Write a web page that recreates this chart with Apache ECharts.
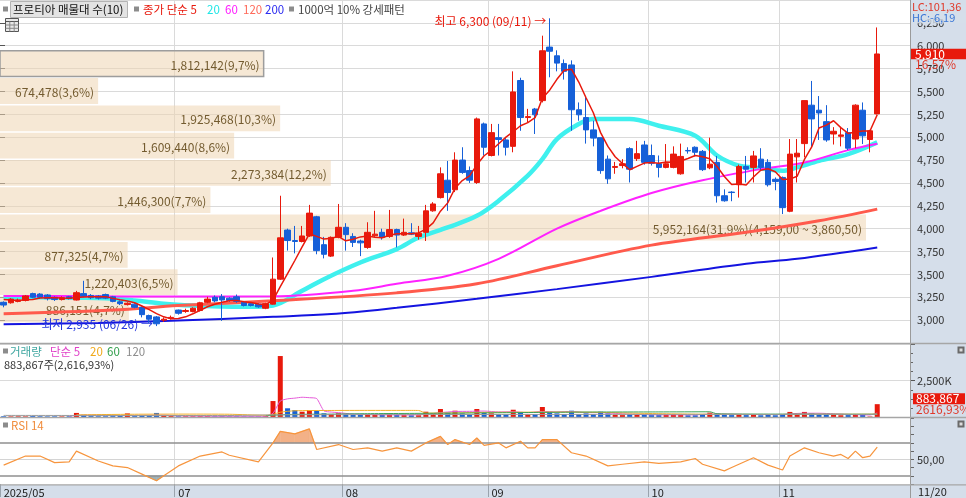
<!DOCTYPE html>
<html><head><meta charset="utf-8">
<script src="https://cdn.jsdelivr.net/npm/echarts@6.0.0/dist/echarts.min.js"></script>
<style>html,body{margin:0;padding:0;background:#fff;overflow:hidden}#c{width:966px;height:498px}</style>
</head><body><div id="c"></div><script>
// ---------- trading days ----------
const mayDays=[26,27,28,29,30];
const junDays=[2,4,5,9,10,11,12,13,16,17,18,19,20,23,24,25,26,27,30];
const julDays=[1,2,3,4,7,8,9,10,11,14,15,16,17,18,21,22,23,24,25,28,29,30,31];
const augDays=[1,4,5,6,7,8,11,12,13,14,18,19,20,21,22,25,26,27,28,29];
const sepDays=[1,2,3,4,5,8,9,10,11,12,15,16,17,18,19,22,23,24,25,26,29,30];
const octDays=[1,2,10,13,14,15,16,17,20,21,22,23,24,27,28,29,30,31];
const novDays=[3,4,5,6,7,10,11,12,13,14,17,18,19,20];
const emptySlots=[' 1',' 2',' 3',' 4'];
const monthMarks=[0,24,47,67,89,107];
const monthLabels=['2025/05','07','08','09','10','11'];

// ---------- price (OHLC) ----------
const opens=[3195,3190,3205,3215,3290,3285,3275,3250,3225,3255,
3220,3290,3270,3265,3280,3255,3200,3170,3175,3140,
3050,3035,3000,3020,3110,3095,3095,3105,3195,3250,
3255,3240,3255,3195,3180,3175,3130,3175,3448,3985,
3870,3860,3920,4130,3825,3700,3905,4015,3915,3865,
3795,3922,3960,3915,3990,3930,3955,3915,3960,4195,
4340,4530,4425,4750,4635,4505,5145,4800,4995,4970,
4900,5620,5215,5308,5400,5985,5890,5805,5790,5300,
5215,5080,4995,4760,4670,4690,4875,4765,4915,4800,
4710,4670,4670,4600,4855,4890,4845,4665,4725,4360,
4400,4480,4680,4670,4760,4725,4540,4560,4190,4785,
4930,5350,5295,5170,5035,5010,5050,4980,5295,4975,
5255];
const closes=[3165,3230,3220,3265,3250,3250,3235,3225,3245,3235,
3300,3260,3245,3240,3240,3205,3180,3185,3140,3060,
3010,2960,3010,3030,3075,3105,3130,3190,3230,3210,
3220,3215,3205,3160,3160,3145,3180,3448,3900,3870,
3860,3920,4170,3760,3720,3905,4015,3935,3850,3845,
3960,3940,3905,3990,3930,3960,3940,3950,4195,4270,
4600,4395,4750,4615,4530,5200,4890,5050,4975,4890,
5495,5215,5225,5245,5945,5940,5810,5720,5300,5245,
5080,4990,4635,4545,4680,4710,4650,4820,4725,4715,
4670,4710,4815,4790,4850,4835,4645,4705,4360,4305,
4395,4680,4650,4795,4670,4480,4515,4230,4815,4825,
5400,5200,5265,4970,5065,5025,4880,5350,5015,5070,
5910];
const lows=[3140,3180,3195,3205,3240,3235,3215,3210,3215,3225,
3215,3250,3230,3225,3230,3195,3165,3160,3130,3030,
2970,2935,2980,3005,3060,3080,3085,3095,3185,3195,
2992,3200,3190,3150,3150,3135,3120,3170,3440,3760,
3730,3850,3910,3720,3675,3690,3895,3760,3800,3700,
3780,3910,3880,3900,3795,3920,3930,3880,3865,4185,
4330,4195,4400,4600,4500,4490,4800,4790,4800,4800,
4835,5070,5160,5035,5380,5655,5720,5630,5070,5180,
4930,4900,4600,4490,4600,4660,4505,4740,4700,4690,
4560,4660,4660,4590,4820,4790,4630,4650,4285,4295,
4300,4340,4505,4505,4630,4460,4420,4160,4180,4505,
4780,4895,4970,4950,4920,4900,4860,4880,4925,4835,
5250];
const highs=[3205,3240,3235,3275,3300,3295,3285,3260,3260,3265,
3320,3430,3285,3275,3290,3265,3215,3195,3185,3150,
3060,3045,3030,3050,3115,3125,3140,3200,3255,3270,
3285,3250,3280,3205,3195,3185,3190,3685,4360,4000,
4030,4030,4260,4140,3910,3915,4270,4060,3950,3880,
4070,4195,4000,4205,4000,4110,4060,4030,4260,4290,
4670,4740,4835,4890,4680,5215,5160,5145,5145,4990,
5720,5650,5310,5320,6110,6300,5950,5850,5840,5380,
5440,5180,4995,4800,4730,4760,4890,4960,4960,4920,
4800,4925,4900,4930,4890,4900,4860,4995,4795,4430,
4410,4700,4795,4850,4880,4760,4560,4570,4980,4980,
5400,5615,5450,5350,5110,5100,5100,5360,5380,5080,
6200];

// ---------- moving averages ----------
const ma5=[3225,3220,3215,3222,3226,3243,3244,3245,3241,3238,3248,3253,3257,3256,3257,3238,3222,3210,3190,3154,3115,3071,3036,3014,3017,3036,3070,3106,3146,3173,3196,3213,3216,3202,3192,3177,3170,3219,3367,3509,3652,3800,3944,3916,3886,3895,3914,3867,3885,3910,3921,3906,3900,3928,3945,3945,3945,3954,3995,4063,4191,4282,4442,4526,4578,4698,4797,4857,4929,5001,5060,5125,5160,5214,5425,5514,5633,5732,5743,5603,5431,5267,5050,4899,4786,4712,4644,4681,4717,4724,4716,4728,4727,4740,4767,4800,4787,4765,4679,4570,4482,4489,4478,4565,4638,4655,4622,4538,4542,4573,4757,4894,5101,5132,5180,5105,5041,5058,5067,5068,5245];
const ma20Idx=[0,5,10,14,18,22,26,30,34,37,41,44,49,54,57,61,65,68,72,74,76,79,81,86,90,95,98,101,103,107,109,112,116,120];
const ma20Val=[3250,3250,3245,3240,3215,3180,3160,3150,3145,3160,3320,3448,3630,3777,3903,4013,4140,4305,4580,4760,4980,5144,5198,5198,5125,5016,4800,4688,4670,4633,4670,4742,4815,4943];
const ma60Idx=[0,12,24,37,48,54,61,68,76,82,89,96,104,110,116,120];
const ma60Val=[3265,3262,3258,3260,3320,3397,3485,3670,4000,4195,4390,4530,4651,4724,4859,4928];
const ma120Idx=[0,15,24,37,54,65,76,89,102,112,120];
const ma120Val=[3069,3110,3160,3211,3298,3397,3594,3820,3960,4086,4214];
const ma200Idx=[0,13,23,37,45,54,65,76,89,102,109,120];
const ma200Val=[2956,2970,2992,3036,3066,3135,3233,3339,3473,3616,3670,3794];

// ---------- volume ----------
const volumes=[50000,40000,45000,40000,60000,50000,40000,45000,40000,50000,
280000,150000,60000,50000,50000,60000,80000,250000,60000,90000,
100000,280000,70000,60000,50000,50000,50000,60000,60000,50000,
60000,50000,50000,40000,40000,40000,60000,
1100000,4200000,600000,480000,365000,480000,435000,255000,200000,250000,
180000,150000,150000,200000,150000,140000,180000,150000,130000,120000,
120000,365000,250000,550000,300000,435000,250000,200000,550000,300000,
250000,200000,180000,500000,300000,180000,200000,690000,350000,250000,
200000,435000,200000,250000,200000,365000,250000,150000,130000,200000,
150000,150000,130000,130000,150000,200000,150000,120000,120000,180000,
300000,250000,150000,130000,200000,130000,150000,120000,150000,120000,
200000,350000,200000,350000,250000,150000,150000,150000,120000,130000,
200000,150000,32531,883867];
const vma5Idx=[9,10,12,14,16,18,20,22,24,30,36,37,38,39,40,41,42,43,44,45,46,48,52,56,58,60,62,64,66,68,70,72,74,76,78,80,82,84,86,90,95,97,99,103,107,108,110,112,114,117,119,120];
const vma5Val=[60000,110000,130000,120000,100000,110000,120000,130000,80000,50000,50000,260000,1100000,1250000,1300000,1360000,1330000,1270000,420000,340000,300000,200000,150000,140000,180000,300000,380000,390000,410000,350000,360000,300000,380000,350000,380000,300000,300000,250000,200000,150000,150000,200000,200000,170000,170000,220000,260000,260000,220000,160000,140000,280000];
const vma20Idx=[10,18,24,31,36,37,38,40,45,50,55,57,58,62,66,70,74,78,82,86,90,95,100,105,110,115,120];
const vma20Val=[150000,190000,200000,190000,120000,180000,330000,430000,450000,455000,455000,450000,270000,280000,320000,330000,340000,340000,320000,270000,230000,200000,180000,170000,190000,190000,200000];
const vma60Idx=[36,38,40,45,50,60,70,80,90,97,98,105,120];
const vma60Val=[90000,150000,180000,200000,230000,260000,300000,340000,350000,360000,220000,200000,190000];
const vma120Idx=[0,30,38,60,90,120];
const vma120Val=[110000,100000,150000,170000,180000,180000];

// ---------- RSI 14 ----------
const rsiIdx=[0,3,5,7,9,10,13,15,17,19,21,22,24,27,30,31,35,37,38,40,42,43,46,48,50,52,54,56,58,60,61,62,64,65,66,68,69,71,72,73,74,76,78,80,83,85,88,90,93,95,96,99,100,102,103,105,107,108,110,112,114,115,116,117,118,119,120];
const rsiVal=[43,54,54,46,47,60,48,42,40,32,24,30,42,54,59,55,47,70,84,81,87,62,68,62,64,60,64,60,70,78,68,74,68,76,67,70,64,72,64,64,74,74,58,54,42,44,47,45,47,51,44,36,40,48,52,43,37,54,64,58,54,56,51,60,52,54,65];
const rsiLevels=[70,50,30];

// ---------- volume profile (매물대 10) ----------
const profileLow=[2965,3263.5,3562,3860.5,4159,4457.5,4756,5054.5,5353,5651.5];
const profileHigh=[3263.5,3562,3860.5,4159,4457.5,4756,5054.5,5353,5651.5,5950];
const profileVol=[886151,1220403,877325,5952164,1446300,2273384,1609440,1925468,674478,1812142];
const profileLabels=['886,151(4,7%)','1,220,403(6,5%)','877,325(4,7%)','5,952,164(31,9%)(4,159,00 ~ 3,860,50)','1,446,300(7,7%)','2,273,384(12,2%)','1,609,440(8,6%)','1,925,468(10,3%)','674,478(3,6%)','1,812,142(9,7%)'];
const profileCurrent=9;

// ---------- build ----------
const pad=n=>String(n).padStart(2,'0');
const dates=[].concat(
  mayDays.map(d=>'2025/05/'+pad(d)),junDays.map(d=>'2025/06/'+pad(d)),
  julDays.map(d=>'2025/07/'+pad(d)),augDays.map(d=>'2025/08/'+pad(d)),
  sepDays.map(d=>'2025/09/'+pad(d)),octDays.map(d=>'2025/10/'+pad(d)),
  novDays.map(d=>'2025/11/'+pad(d)));
const cats=dates.concat(emptySlots);
function sparse(idx,val){const a=new Array(dates.length).fill(null);idx.forEach((k,j)=>{a[k]=val[j];});return a;}

const FONT="'Noto Sans CJK KR','Noto Sans',sans-serif";
const RED='#e8190c', BLUE='#1660d8', GL='#dadada';
const chart=echarts.init(document.getElementById('c'),null,{width:966,height:498});

function catAxis(grid,bottom){
  const isMark=i=>monthMarks.indexOf(i)>=0;
  return {type:'category',gridIndex:grid,data:cats,boundaryGap:true,
    axisLine:{show:false},
    axisTick:bottom?{show:true,interval:(i)=>isMark(i),length:13,lineStyle:{color:'#9aa3ad'}}:{show:false},
    axisLabel:bottom?{show:true,interval:(i)=>isMark(i),formatter:(v,i)=>monthLabels[monthMarks.indexOf(i)],align:'left',margin:3,color:'#222',fontSize:11,fontFamily:FONT}:{show:false},
    splitLine:{show:true,interval:(i)=>monthMarks.indexOf(i)>0,lineStyle:{color:GL,width:1}}};
}
const last=closes.length-1;
const hiIdx=highs.indexOf(Math.max.apply(null,highs));
const loIdx=lows.indexOf(Math.min.apply(null,lows));
const md=s=>s.slice(5);
const candleData=dates.map((d,i)=>[opens[i],closes[i],lows[i],highs[i]]);
const volData=volumes.map((v,i)=>({value:v,itemStyle:{color:closes[i]>=opens[i]?RED:BLUE}}));
const rsiData=sparse(rsiIdx,rsiVal);
const rsiSeg=[];
for(let k=0;k<rsiIdx.length-1;k++) rsiSeg.push([rsiIdx[k],rsiVal[k],rsiIdx[k+1],rsiVal[k+1]]);
const profileData=profileVol.map((v,i)=>[v,profileLow[i],profileHigh[i]]);

function maLine(name,data,color,width,smooth,z){
  return {name,type:'line',xAxisIndex:0,yAxisIndex:0,data,showSymbol:false,connectNulls:true,smooth,
    lineStyle:{color,width},itemStyle:{color},z,silent:true};
}
function vmaLine(data,color){
  return {type:'line',xAxisIndex:2,yAxisIndex:1,data,showSymbol:false,connectNulls:true,smooth:0.2,
    lineStyle:{color,width:1},itemStyle:{color},z:4,silent:true};
}
function fillSeries(level,above,color){
  return {type:'custom',xAxisIndex:3,yAxisIndex:2,data:rsiSeg,z:3,silent:true,
    renderItem:function(params,api){
      const a=api.coord([api.value(0),api.value(1)]), b=api.coord([api.value(2),api.value(3)]);
      const ly=api.coord([api.value(0),level])[1];
      const inA=above?a[1]<ly:a[1]>ly, inB=above?b[1]<ly:b[1]>ly;
      if(!inA&&!inB) return null;
      let pts;
      if(inA&&inB) pts=[a,b,[b[0],ly],[a[0],ly]];
      else{const t=(ly-a[1])/(b[1]-a[1]);const xi=a[0]+t*(b[0]-a[0]);
        pts=inA?[a,[xi,ly],[a[0],ly]]:[[xi,ly],b,[b[0],ly]];}
      return {type:'polygon',shape:{points:pts},style:{fill:color,stroke:color,lineWidth:0.6}};
    }};
}

function T(x,y,text,fill,align,size){
  return {type:'text',x,y,z:100,silent:true,style:{text,fill,font:(size||12)+'px '+FONT,align:align||'left',verticalAlign:'middle'}};
}
function R(x,y,w,h,fill,stroke,z){
  return {type:'rect',z:z==null?90:z,silent:true,shape:{x,y,width:w,height:h},style:{fill,stroke:stroke||null,lineWidth:1}};
}
function L(x1,y1,x2,y2,color,w){
  return {type:'line',z:95,silent:true,shape:{x1,y1,x2,y2},style:{stroke:color,lineWidth:w||1}};
}
const graphics=[
  R(910,0,56,498,'#d5deea',null,-100),
  R(0,485,910,13,'#d5deea',null,-100),
  L(910.5,0,910.5,498,'#9a9a9a',1),
  L(0,343.5,966,343.5,'#a6a6a6',1.5),
  L(0,417.5,966,417.5,'#a6a6a6',1.5),
  L(0,484.8,966,484.8,'#a6a6a6',1.2),
  R(3,6.5,5,5,'#8c8c8c'),
  R(10.5,1.5,117,16,'#e3e3e3','#b4b4b4'),
  T(13,9.5,'프로티아 매물대 수(10)','#111','left',11.5),
  R(134,6.5,5,5,'#8c8c8c'),
  T(143,9.5,'종가 단순 5',RED,'left',11.5),
  T(207,9.5,'20','#1ee6e6','left',11.5),
  T(225,9.5,'60','#ff1aff','left',11.5),
  T(243,9.5,'120','#ff6a5a','left',11.5),
  T(265,9.5,'200','#2a2af0','left',11.5),
  R(289,6.5,5,5,'#8c8c8c'),
  T(298,9.5,'1000억 10% 강세패턴','#444','left',11.5),
  R(5.5,18.5,13,13,'#e8e8e8','#555'),
  L(5.5,21.5,18.5,21.5,'#555',1), L(5.5,25,18.5,25,'#888',1), L(5.5,28.3,18.5,28.3,'#888',1),
  L(9.8,21.5,9.8,31.5,'#888',1), L(14.2,21.5,14.2,31.5,'#888',1),
  R(911,12.5,55,11,'rgba(213,222,234,0.8)',null,98),
  T(912,6.5,'LC:101,36','#e0392a','left',11),
  T(912,17.5,'HC:-6,19','#3a76d6','left',11),
  T(918,492,'11/20','#222','left',11),
  R(957.5,346.5,7,7,'#6a6a6a'), R(959.5,348.5,3,3,'#ddd'),
  R(957.5,420.5,7,7,'#6a6a6a'), R(959.5,422.5,3,3,'#ddd'),
  R(3,348.5,5,5,'#8c8c8c'),
  T(10,351.5,'거래량','#3fa6a0','left',11.5),
  T(50,351.5,'단순 5','#e040c8','left',11.5),
  T(90,351.5,'20','#f0a818','left',11.5),
  T(107,351.5,'60','#2f9e4a','left',11.5),
  T(126,351.5,'120','#8c8c8c','left',11.5),
  T(4,364.5,'883,867주(2,616,93%)','#333','left',11),
  R(3,422.5,5,5,'#8c8c8c'),
  T(11,425.5,'RSI 14','#f08c3c','left',11.5)
];
const hidden={color:'rgba(0,0,0,0)',width:0,type:'solid'};

const option={
  animation:false,
  grid:[
    {left:0,top:0,width:910,height:343},
    {left:0,top:344,width:910,height:73},
    {left:0,top:418.25,width:910,height:66.8}
  ],
  xAxis:[
    catAxis(0,false),
    {type:'value',gridIndex:0,min:0,max:6254600,show:false},
    catAxis(1,false),
    catAxis(2,true)
  ],
  yAxis:[
    {type:'value',gridIndex:0,position:'right',min:2750,max:6500,interval:250,
      axisLine:{show:false},axisTick:{show:true,length:5,lineStyle:{color:'#555'}},
      axisLabel:{margin:7,color:'#333',fontSize:11,fontFamily:FONT,showMinLabel:false,showMaxLabel:false,
        formatter:v=>v.toLocaleString('en-US')},
      splitLine:{show:true,lineStyle:{color:GL}}},
    {type:'value',gridIndex:1,position:'right',min:0,max:5030000,interval:2500000,
      axisLine:{show:false},axisTick:{show:true,length:5,lineStyle:{color:'#555'}},
      minorTick:{show:true,splitNumber:4,length:3,lineStyle:{color:'#666'}},
      axisLabel:{margin:7,color:'#333',fontSize:11,fontFamily:FONT,formatter:v=>v===2500000?'2,500K':''},
      splitLine:{show:true,lineStyle:{color:GL}}},
    {type:'value',gridIndex:2,position:'right',min:20,max:100,interval:10,
      axisLine:{show:false},axisTick:{show:true,length:4,lineStyle:{color:'#666'}},
      axisLabel:{margin:7,color:'#333',fontSize:11,fontFamily:FONT,formatter:v=>v===50?'50,00':''},
      splitLine:{show:false}}
  ],
  graphic:{elements:graphics},
  series:[
    {type:'custom',xAxisIndex:1,yAxisIndex:0,data:profileData,z:1,silent:true,
      renderItem:function(params,api){
        const i=params.dataIndex;
        const p0=api.coord([0,api.value(2)]);
        const p1=api.coord([api.value(0),api.value(1)]);
        const x=p0[0],y=p0[1]+0.5,w=p1[0]-p0[0],h=p1[1]-p0[1]-1.5;
        return {type:'group',children:[
          {type:'rect',shape:{x:x,y:y,width:w,height:h},
            style:{fill:'rgba(238,214,178,0.55)',stroke:i===profileCurrent?'#9d9d9d':null,lineWidth:1.5}},
          {type:'text',x:x+w-4,y:y+h/2+1.5,
            style:{text:profileLabels[i],align:'right',verticalAlign:'middle',fill:'#735b2f',font:'12px '+FONT}}
        ]};
      }},
    maLine('MA20',sparse(ma20Idx,ma20Val),'#3ff0ee',4.5,0.35,2),
    maLine('MA60',sparse(ma60Idx,ma60Val),'#ff22ff',2,0.35,3),
    maLine('MA120',sparse(ma120Idx,ma120Val),'#ff5a4c',3,0.35,3),
    maLine('MA200',sparse(ma200Idx,ma200Val),'#1414e0',2,0.35,3),
    {type:'candlestick',xAxisIndex:0,yAxisIndex:0,data:candleData,barWidth:6,z:5,silent:true,clip:false,
      itemStyle:{color:RED,color0:BLUE,borderColor:RED,borderColor0:BLUE,borderWidth:1},
      markPoint:{silent:true,symbol:'rect',symbolSize:[1,1],itemStyle:{color:'rgba(0,0,0,0)'},
        data:[
          {coord:[hiIdx,highs[hiIdx]],label:{show:true,position:'left',distance:3,offset:[0,3],color:'#e8190c',fontSize:12,fontFamily:FONT,
            formatter:'최고 '+highs[hiIdx].toLocaleString('en-US')+' ('+md(dates[hiIdx])+') →'}},
          {coord:[loIdx,lows[loIdx]],label:{show:true,position:'left',distance:3,offset:[0,-2],color:'#2234dd',fontSize:12,fontFamily:FONT,
            formatter:'최저 '+lows[loIdx].toLocaleString('en-US')+' ('+md(dates[loIdx])+') →'}}
        ]},
      markLine:{silent:true,symbol:'none',lineStyle:hidden,
        data:[{yAxis:closes[last],lineStyle:hidden,
          label:{show:true,position:'end',distance:1,
            formatter:'{s|}\n{a|'+closes[last].toLocaleString('en-US')+'}\n{b|16,57%}',
            rich:{s:{height:10.5,lineHeight:10.5},
              a:{backgroundColor:RED,color:'#fff',width:51,height:10.5,lineHeight:10.5,padding:[0,0,0,4],fontSize:12,fontFamily:FONT},
              b:{color:'#e0392a',height:10.5,lineHeight:10.5,padding:[0,0,0,4],fontSize:12,fontFamily:FONT}}}}]}},
    maLine('MA5',ma5,'#e8190c',1.5,false,6),
    {type:'bar',xAxisIndex:2,yAxisIndex:1,data:volData,barWidth:5,z:3,silent:true,clip:false,
      markLine:{silent:true,symbol:'none',lineStyle:hidden,
        data:[{yAxis:volumes[last],lineStyle:hidden,
          label:{show:true,position:'end',distance:3,
            formatter:'{a|'+volumes[last].toLocaleString('en-US')+'}\n{b|2616,93%}',
            rich:{a:{backgroundColor:RED,color:'#fff',width:49,height:11,lineHeight:11,padding:[0,0,0,3],fontSize:12,fontFamily:FONT},
              b:{color:'#e0392a',height:11,lineHeight:11,padding:[0,0,0,3],fontSize:12,fontFamily:FONT}}}}]}},
    vmaLine(sparse(vma5Idx,vma5Val),'#e55ad8'),
    vmaLine(sparse(vma20Idx,vma20Val),'#f2b02a'),
    vmaLine(sparse(vma60Idx,vma60Val),'#3aa457'),
    vmaLine(sparse(vma120Idx,vma120Val),'#9a9a9a'),
    {type:'line',xAxisIndex:3,yAxisIndex:2,data:rsiData,showSymbol:false,connectNulls:true,z:5,silent:true,
      lineStyle:{color:'#f7953d',width:1.2},itemStyle:{color:'#f7953d'},
      markLine:{silent:true,symbol:'none',label:{show:false},
        data:[{yAxis:rsiLevels[0],lineStyle:{color:'#8f8f8f',width:1.5,type:'solid'}},
              {yAxis:rsiLevels[1],lineStyle:{color:'#d4d4d4',width:1,type:'solid'}},
              {yAxis:rsiLevels[2],lineStyle:{color:'#8f8f8f',width:1.5,type:'solid'}}]}},
    fillSeries(rsiLevels[0],true,'#f3b187'),
    fillSeries(rsiLevels[2],false,'#9db1b8')
  ]
};
chart.setOption(option);
</script></body></html>
